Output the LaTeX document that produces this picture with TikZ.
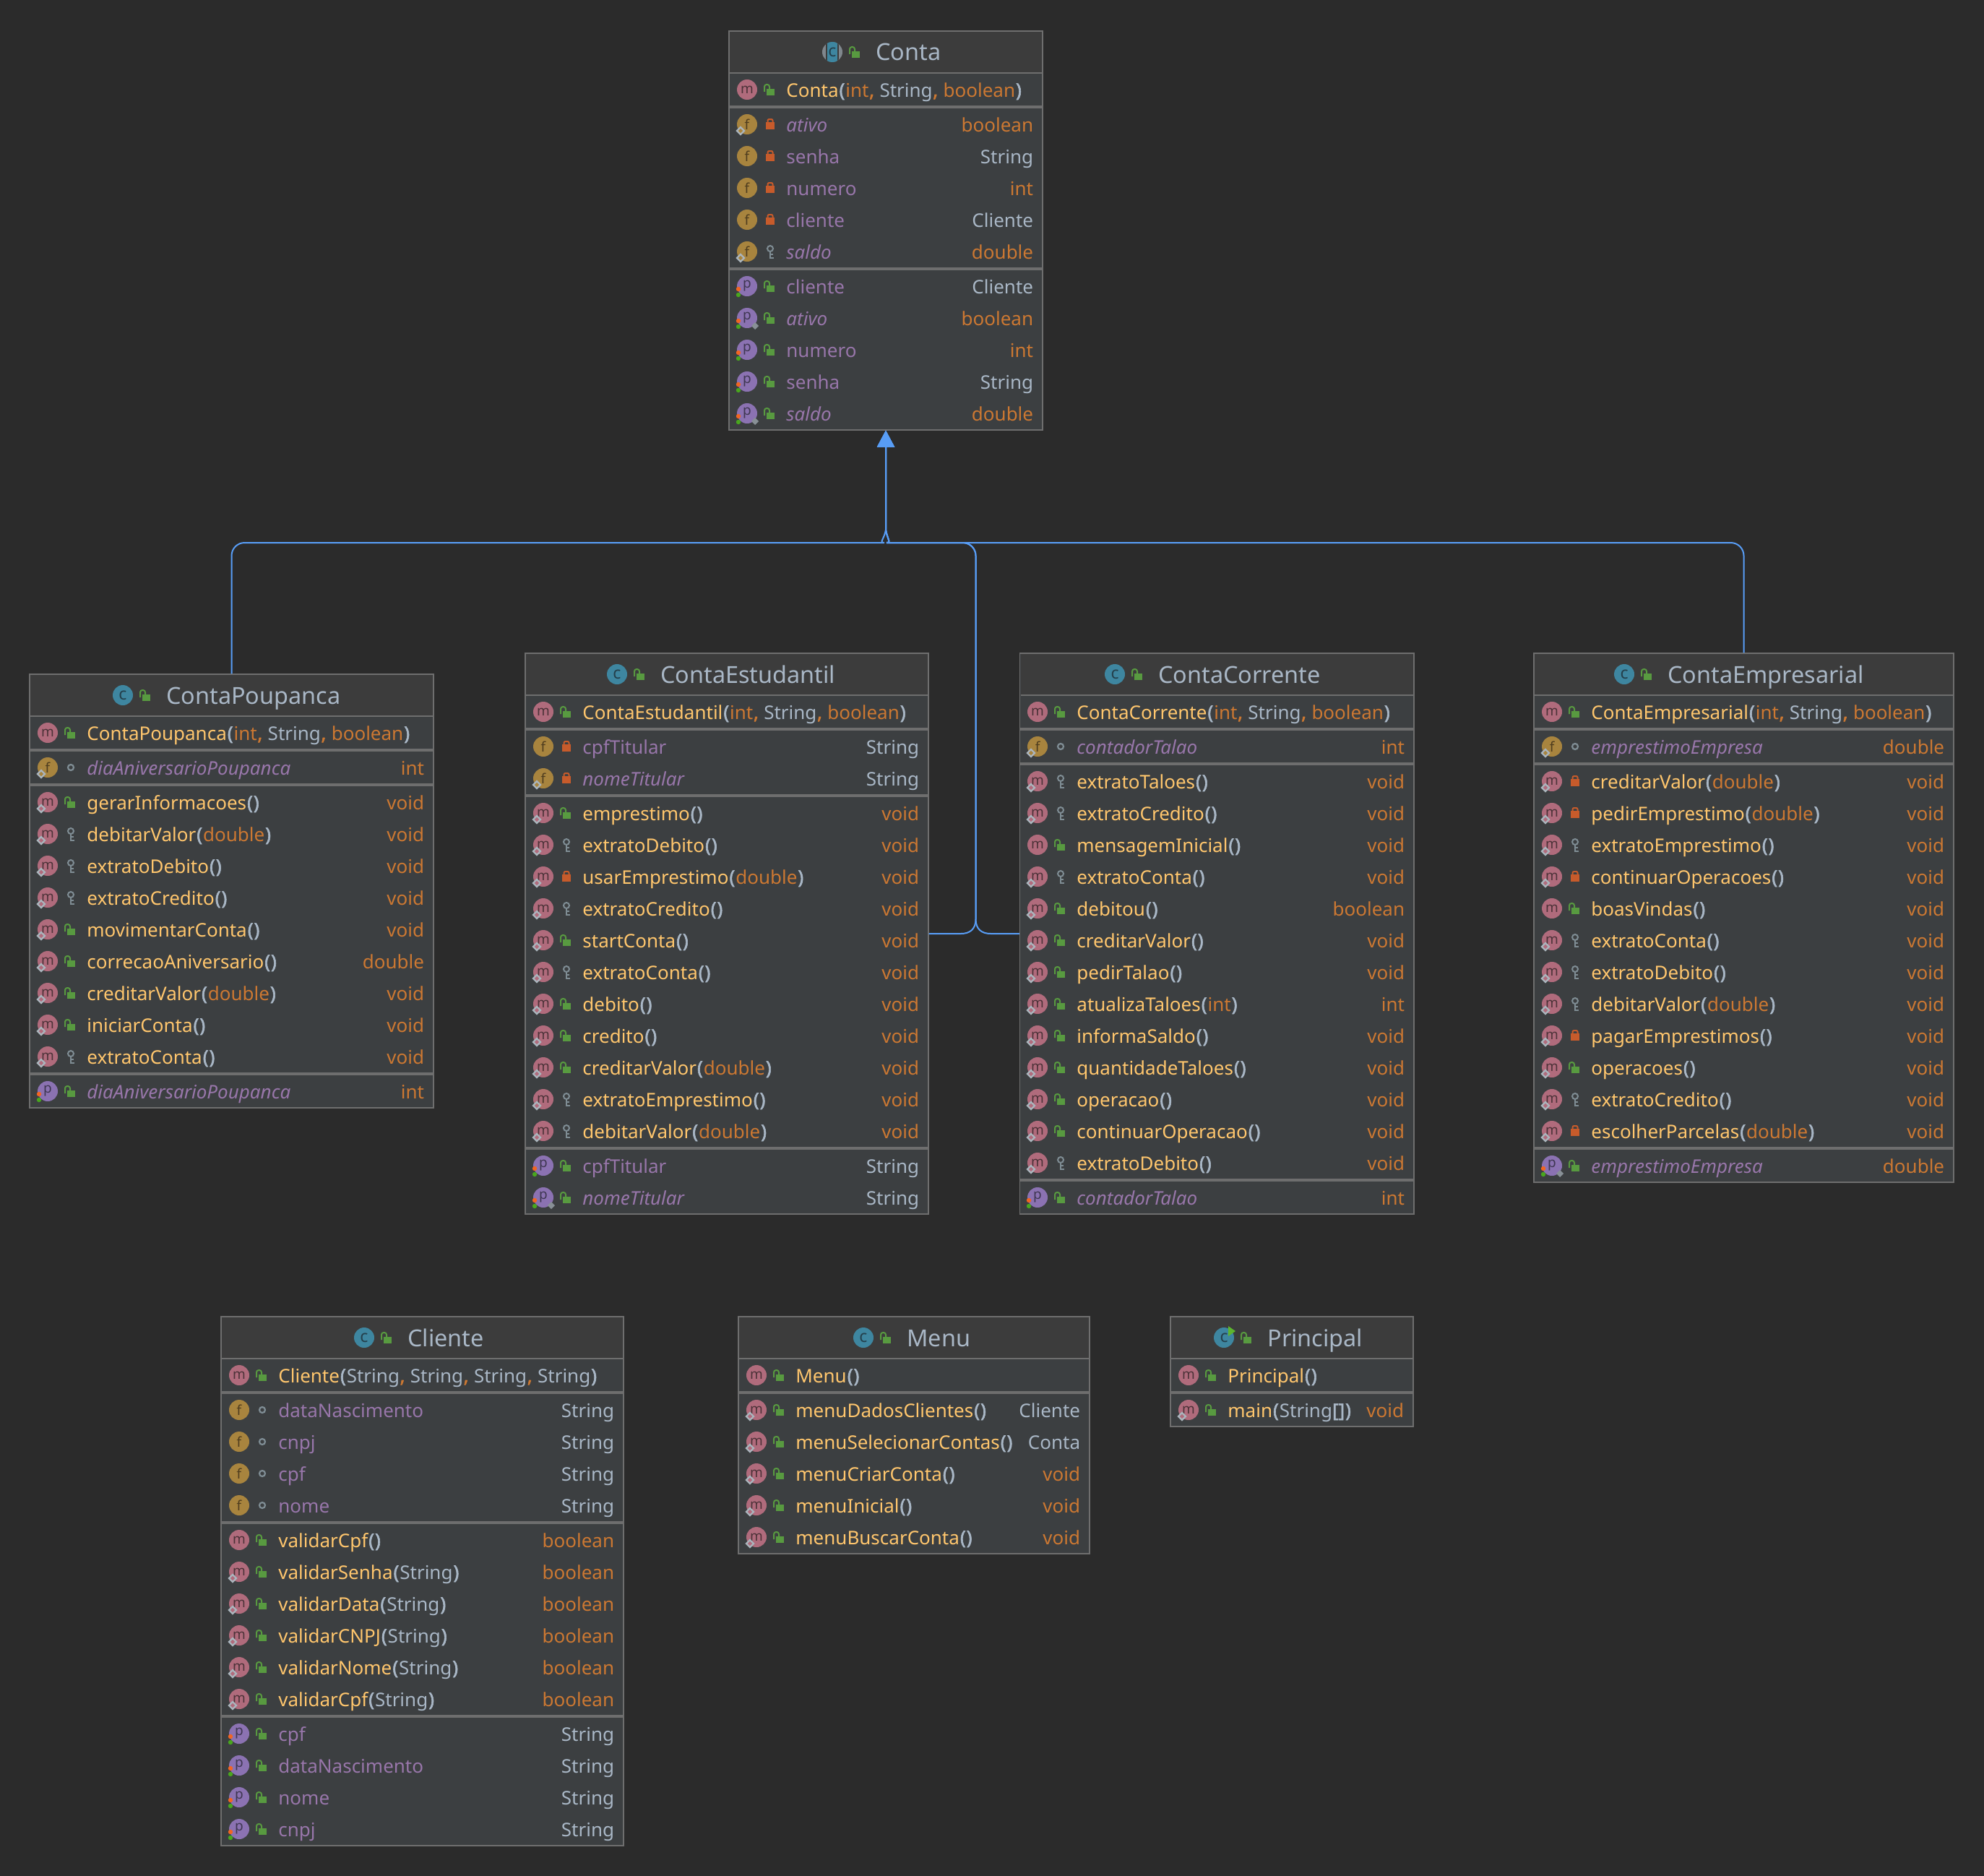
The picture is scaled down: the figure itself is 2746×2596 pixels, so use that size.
\documentclass[tikz,border=0pt]{standalone}
\usepackage{fontspec}
\setmainfont{Noto Sans}
\newfontfamily\parenfont{Noto Sans}[FakeBold=2.2]
\usetikzlibrary{arrows.meta, fit}

\definecolor{bgdark}{HTML}{2B2B2B}
\definecolor{bodyfill}{HTML}{3C3F41}
\definecolor{titlefill}{HTML}{3C3C3C}
\definecolor{rulegray}{HTML}{6E6E6E}
\definecolor{methodtext}{HTML}{FFC66D}
\definecolor{typeorange}{HTML}{CC7832}
\definecolor{textgray}{HTML}{A9B7C6}
\definecolor{fieldpurple}{HTML}{9876AA}
\definecolor{edgeblue}{HTML}{589DF6}
\definecolor{iconc}{HTML}{3E86A0}
\definecolor{iconm}{HTML}{B06B7C}
\definecolor{iconf}{HTML}{A8843E}
\definecolor{iconp}{HTML}{8B72B2}
\definecolor{letterc}{HTML}{24404C}
\definecolor{letterm}{HTML}{4C3238}
\definecolor{letterf}{HTML}{4F3D1F}
\definecolor{letterp}{HTML}{3F3752}
\definecolor{lockgreen}{HTML}{589A40}
\definecolor{lockred}{HTML}{C75B2B}
\definecolor{keygray}{HTML}{7F8D94}
\definecolor{markgray}{HTML}{AAB4BC}
\definecolor{dotorange}{HTML}{F26522}
\definecolor{dotgreen}{HTML}{49A61E}
\definecolor{rungreen}{HTML}{5DB52F}

% pieces of a label
\newcommand{\mname}[1]{\textcolor{methodtext}{#1}}
\newcommand{\fname}[1]{\textcolor{fieldpurple}{#1}}
\newcommand{\iname}[1]{\textcolor{fieldpurple}{\itshape #1}}
\newcommand{\tname}[1]{\textcolor{typeorange}{#1}}
\newcommand{\rname}[1]{\textcolor{textgray}{#1}}
\newcommand{\noargs}{{\parenfont\textcolor{textgray}{\kern.5pt(\kern.5pt)\kern.5pt}}}
\newcommand{\opn}{{\parenfont\textcolor{textgray}{\kern.5pt(\kern.5pt}}}
\newcommand{\cls}{{\parenfont\textcolor{textgray}{\kern.5pt)\kern.5pt}}}
\newcommand{\cma}{{\parenfont\textcolor{typeorange}{\kern.3pt,\kern.3pt}}\space}
\newcommand{\ctorargs}{\opn\tname{int}\cma\rname{String}\cma\tname{boolean}\cls}

% member icons: id, x, y
\newcommand{\overmark}[3]{\draw[overline, fill=#1] (#2-14,#3+9) -- (#2-9,#3+4) -- (#2-4,#3+9) -- (#2-9,#3+14) -- cycle;}
\newcommand{\iconm}[3]{\node[membericon, fill=iconm, text=letterm] (#1) at (#2,#3) {m};}
\newcommand{\iconf}[3]{\node[membericon, fill=iconf, text=letterf] (#1) at (#2,#3) {f};}
\newcommand{\iconp}[3]{\node[membericon, fill=iconp, text=letterp] (#1) at (#2,#3) {p};
  \fill[dotorange] (#2-12,#3+4) circle[radius=1.6pt];
  \fill[dotgreen] (#2-12,#3+12) circle[radius=1.6pt];}
\newcommand{\iconmd}[3]{\iconm{#1}{#2}{#3}\overmark{iconm}{#2}{#3}}
\newcommand{\iconfd}[3]{\iconf{#1}{#2}{#3}\overmark{iconf}{#2}{#3}}
\newcommand{\iconpd}[3]{\iconp{#1}{#2}{#3}
  \fill[markgray!80!black] (#2+6,#3+11) -- (#2+11,#3+6) -- (#2+16,#3+11) -- (#2+11,#3+16) -- cycle;}

% access marks: x, y
\newcommand{\accpub}[2]{\fill[lockgreen] (#1-5,#2-1) rectangle (#1+6,#2+8);
  \draw[lockgreen, line width=1pt, rounded corners=1.5pt] (#1-8,#2+3) -- (#1-8,#2-7) -- (#1-1,#2-7) -- (#1-1,#2);}
\newcommand{\accpri}[2]{\fill[lockred] (#1-6,#2-3) rectangle (#1+6,#2+7);
  \draw[lockred, line width=1pt, rounded corners=1pt] (#1-3.5,#2-3) -- (#1-3.5,#2-7) -- (#1+3.5,#2-7) -- (#1+3.5,#2-3);}
\newcommand{\acckey}[2]{\draw[keygray, line width=1pt] (#1,#2-4) circle[radius=2pt];
  \draw[keygray, line width=1.1pt] (#1,#2) -- (#1,#2+9) -- (#1+5,#2+9) (#1,#2+4) -- (#1+4,#2+4);}
\newcommand{\accpkg}[2]{\draw[keygray, line width=1.1pt] (#1,#2) circle[radius=2pt];}

% class icons: id, x, y
\newcommand{\classiconplain}[3]{\node[classicon, fill=iconc] (#1) at (#2,#3) {c};}
\newcommand{\classiconrun}[3]{\classiconplain{#1}{#2}{#3}
  \fill[rungreen] (#2+6,#3-16) -- (#2+16,#3-9) -- (#2+6,#3-2) -- cycle;}
\newcommand{\classiconabstract}[3]{\begin{scope}
    \clip (#2,#3) circle[radius=7pt];
    \fill[markgray!75!black] (#2-15,#3-15) rectangle (#2+15,#3+15);
    \fill[titlefill] (#2-9,#3-15) rectangle (#2+9,#3+15);
    \fill[iconc] (#2-7,#3-15) rectangle (#2+7,#3+15);
  \end{scope}
  \node[classicon] (#1) at (#2,#3) {c};}

% id, left, top, right, bottom, title x, title, icon kind
\newcommand{\classhead}[8]{\node[classbox, fit={(#2,#3) (#4,#5)}] (#1) {};
  \fill[titlefill] (#2+1,#3+1) rectangle (#4-1,#3+58);
  \draw[titlerule] (#2+1,#3+58) -- (#4-1,#3+58);
  \csname classicon#8\endcsname{#1-icon}{#6-61}{#3+29}
  \accpub{#6-29}{#3+29}
  \node[classtitle] (#1-title) at (#6-1,#3+41) {#7};}

% id, icon, access, left, y, label
\newcommand{\memberrow}[6]{\csname icon#2\endcsname{#1-ic}{#4+25}{#5}
  \csname acc#3\endcsname{#4+57}{#5}
  \node[memberlabel] (#1-label) at (#4+79,#5+10) {#6};}

% id, left, right, first y, rows
\newcommand{\memberrows}[5]{\foreach \ic/\ac/\lab/\ty [count=\rownum] in {#5} {
    \pgfmathsetmacro{\rowy}{#4+44*\rownum-22}
    \memberrow{#1-\rownum}{\ic}{\ac}{#2}{\rowy}{\lab}
    \node[membertype] (#1-\rownum-type) at (#3-12.5,\rowy+10) {\ty};
  }}

\begin{document}
\begin{tikzpicture}[x=0.5pt, y=-0.5pt,
    classbox/.style={draw=rulegray, fill=bodyfill, line width=0.7pt, inner sep=0pt},
    titlerule/.style={draw=rulegray, line width=0.7pt},
    grouprule/.style={draw=rulegray, line width=2pt},
    classtitle/.style={anchor=base west, inner sep=0pt, text=textgray, font=\fontsize{16.2}{18}\selectfont},
    memberlabel/.style={anchor=base west, inner sep=0pt, font=\fontsize{13}{15}\selectfont},
    membertype/.style={anchor=base east, inner sep=0pt, font=\fontsize{13}{15}\selectfont},
    membericon/.style={circle, inner sep=0pt, minimum size=14pt, font=\fontsize{9.5}{10}\selectfont},
    classicon/.style={circle, inner sep=0pt, minimum size=14pt, text=letterc, font=\fontsize{11.5}{12}\selectfont},
    overline/.style={draw=markgray, line width=1.1pt},
    inheritedge/.style={draw=edgeblue, line width=1pt, -{Triangle[length=11.5pt, width=12pt, fill=edgeblue]}}
  ]
  \fill[bgdark] (0,0) rectangle (2746,2596);

  % Conta
  \classhead{conta}{1009}{43}{1443}{595}{1213}{Conta}{abstract}
  \memberrow{contaCtor}{m}{pub}{1009}{124}{\mname{Conta}\ctorargs}
  \draw[grouprule] (1010,148) -- (1442,148);
  \memberrows{contaF}{1009}{1443}{150}{
    fd/pri/\iname{ativo}/\tname{boolean},
    f/pri/\fname{senha}/\rname{String},
    f/pri/\fname{numero}/\tname{int},
    f/pri/\fname{cliente}/\rname{Cliente},
    fd/key/\iname{saldo}/\tname{double}}
  \draw[grouprule] (1010,372) -- (1442,372);
  \memberrows{contaP}{1009}{1443}{374}{
    p/pub/\fname{cliente}/\rname{Cliente},
    pd/pub/\iname{ativo}/\tname{boolean},
    p/pub/\fname{numero}/\tname{int},
    p/pub/\fname{senha}/\rname{String},
    pd/pub/\iname{saldo}/\tname{double}}

  % ContaPoupanca
  \classhead{contaPoupanca}{41}{933}{600}{1533}{231}{ContaPoupanca}{plain}
  \memberrow{poupancaCtor}{m}{pub}{41}{1014}{\mname{ContaPoupanca}\ctorargs}
  \draw[grouprule] (42,1038) -- (599,1038);
  \memberrows{poupancaF}{41}{600}{1040}{
    fd/pkg/\iname{diaAniversarioPoupanca}/\tname{int}}
  \draw[grouprule] (42,1086) -- (599,1086);
  \memberrows{poupancaM}{41}{600}{1088}{
    md/pub/\mname{gerarInformacoes}\noargs/\tname{void},
    md/key/\mname{debitarValor}\opn\tname{double}\cls/\tname{void},
    md/key/\mname{extratoDebito}\noargs/\tname{void},
    md/key/\mname{extratoCredito}\noargs/\tname{void},
    md/pub/\mname{movimentarConta}\noargs/\tname{void},
    md/pub/\mname{correcaoAniversario}\noargs/\tname{double},
    md/pub/\mname{creditarValor}\opn\tname{double}\cls/\tname{void},
    md/pub/\mname{iniciarConta}\noargs/\tname{void},
    md/key/\mname{extratoConta}\noargs/\tname{void}}
  \draw[grouprule] (42,1486) -- (599,1486);
  \memberrows{poupancaP}{41}{600}{1488}{
    p/pub/\iname{diaAniversarioPoupanca}/\tname{int}}

  % ContaEstudantil
  \classhead{contaEstudantil}{727}{904}{1285}{1680}{915}{ContaEstudantil}{plain}
  \memberrow{estudantilCtor}{m}{pub}{727}{985}{\mname{ContaEstudantil}\ctorargs}
  \draw[grouprule] (728,1009) -- (1284,1009);
  \memberrows{estudantilF}{727}{1285}{1011}{
    f/pri/\fname{cpfTitular}/\rname{String},
    fd/pri/\iname{nomeTitular}/\rname{String}}
  \draw[grouprule] (728,1101) -- (1284,1101);
  \memberrows{estudantilM}{727}{1285}{1103}{
    md/pub/\mname{emprestimo}\noargs/\tname{void},
    md/key/\mname{extratoDebito}\noargs/\tname{void},
    md/pri/\mname{usarEmprestimo}\opn\tname{double}\cls/\tname{void},
    md/key/\mname{extratoCredito}\noargs/\tname{void},
    md/pub/\mname{startConta}\noargs/\tname{void},
    md/key/\mname{extratoConta}\noargs/\tname{void},
    md/pub/\mname{debito}\noargs/\tname{void},
    md/pub/\mname{credito}\noargs/\tname{void},
    md/pub/\mname{creditarValor}\opn\tname{double}\cls/\tname{void},
    md/key/\mname{extratoEmprestimo}\noargs/\tname{void},
    md/key/\mname{debitarValor}\opn\tname{double}\cls/\tname{void}}
  \draw[grouprule] (728,1589) -- (1284,1589);
  \memberrows{estudantilP}{727}{1285}{1591}{
    p/pub/\fname{cpfTitular}/\rname{String},
    pd/pub/\iname{nomeTitular}/\rname{String}}

  % ContaCorrente
  \classhead{contaCorrente}{1411.5}{904}{1957}{1680}{1604}{ContaCorrente}{plain}
  \memberrow{correnteCtor}{m}{pub}{1411}{985}{\mname{ContaCorrente}\ctorargs}
  \draw[grouprule] (1412,1009) -- (1956,1009);
  \memberrows{correnteF}{1411}{1957}{1011}{
    fd/pkg/\iname{contadorTalao}/\tname{int}}
  \draw[grouprule] (1412,1057) -- (1956,1057);
  \memberrows{correnteM}{1411}{1957}{1059}{
    md/key/\mname{extratoTaloes}\noargs/\tname{void},
    md/key/\mname{extratoCredito}\noargs/\tname{void},
    m/pub/\mname{mensagemInicial}\noargs/\tname{void},
    md/key/\mname{extratoConta}\noargs/\tname{void},
    md/pub/\mname{debitou}\noargs/\tname{boolean},
    md/pub/\mname{creditarValor}\noargs/\tname{void},
    md/pub/\mname{pedirTalao}\noargs/\tname{void},
    md/pub/\mname{atualizaTaloes}\opn\tname{int}\cls/\tname{int},
    md/pub/\mname{informaSaldo}\noargs/\tname{void},
    md/pub/\mname{quantidadeTaloes}\noargs/\tname{void},
    md/pub/\mname{operacao}\noargs/\tname{void},
    md/pub/\mname{continuarOperacao}\noargs/\tname{void},
    md/key/\mname{extratoDebito}\noargs/\tname{void}}
  \draw[grouprule] (1412,1633) -- (1956,1633);
  \memberrows{correnteP}{1411}{1957}{1635}{
    p/pub/\iname{contadorTalao}/\tname{int}}

  % ContaEmpresarial
  \classhead{contaEmpresarial}{2123}{904}{2704}{1636}{2309}{ContaEmpresarial}{plain}
  \memberrow{empresarialCtor}{m}{pub}{2123}{985}{\mname{ContaEmpresarial}\ctorargs}
  \draw[grouprule] (2124,1009) -- (2703,1009);
  \memberrows{empresarialF}{2123}{2704}{1011}{
    fd/pkg/\iname{emprestimoEmpresa}/\tname{double}}
  \draw[grouprule] (2124,1057) -- (2703,1057);
  \memberrows{empresarialM}{2123}{2704}{1059}{
    md/pri/\mname{creditarValor}\opn\tname{double}\cls/\tname{void},
    md/pri/\mname{pedirEmprestimo}\opn\tname{double}\cls/\tname{void},
    md/key/\mname{extratoEmprestimo}\noargs/\tname{void},
    md/pri/\mname{continuarOperacoes}\noargs/\tname{void},
    m/pub/\mname{boasVindas}\noargs/\tname{void},
    md/key/\mname{extratoConta}\noargs/\tname{void},
    md/key/\mname{extratoDebito}\noargs/\tname{void},
    md/key/\mname{debitarValor}\opn\tname{double}\cls/\tname{void},
    md/pri/\mname{pagarEmprestimos}\noargs/\tname{void},
    md/pub/\mname{operacoes}\noargs/\tname{void},
    md/key/\mname{extratoCredito}\noargs/\tname{void},
    md/pri/\mname{escolherParcelas}\opn\tname{double}\cls/\tname{void}}
  \draw[grouprule] (2124,1589) -- (2703,1589);
  \memberrows{empresarialP}{2123}{2704}{1591}{
    pd/pub/\iname{emprestimoEmpresa}/\tname{double}}

  % Cliente
  \classhead{cliente}{306}{1822}{863}{2554}{565}{Cliente}{plain}
  \memberrow{clienteCtor}{m}{pub}{306}{1903}{\mname{Cliente}\opn\rname{String}\cma\rname{String}\cma\rname{String}\cma\rname{String}\cls}
  \draw[grouprule] (307,1927) -- (862,1927);
  \memberrows{clienteF}{306}{863}{1929}{
    f/pkg/\fname{dataNascimento}/\rname{String},
    f/pkg/\fname{cnpj}/\rname{String},
    f/pkg/\fname{cpf}/\rname{String},
    f/pkg/\fname{nome}/\rname{String}}
  \draw[grouprule] (307,2107) -- (862,2107);
  \memberrows{clienteM}{306}{863}{2109}{
    m/pub/\mname{validarCpf}\noargs/\tname{boolean},
    md/pub/\mname{validarSenha}\opn\rname{String}\cls/\tname{boolean},
    md/pub/\mname{validarData}\opn\rname{String}\cls/\tname{boolean},
    md/pub/\mname{validarCNPJ}\opn\rname{String}\cls/\tname{boolean},
    md/pub/\mname{validarNome}\opn\rname{String}\cls/\tname{boolean},
    md/pub/\mname{validarCpf}\opn\rname{String}\cls/\tname{boolean}}
  \draw[grouprule] (307,2375) -- (862,2375);
  \memberrows{clienteP}{306}{863}{2377}{
    p/pub/\fname{cpf}/\rname{String},
    p/pub/\fname{dataNascimento}/\rname{String},
    p/pub/\fname{nome}/\rname{String},
    p/pub/\fname{cnpj}/\rname{String}}

  % Menu
  \classhead{menu}{1022}{1822}{1508}{2150}{1256}{Menu}{plain}
  \memberrow{menuCtor}{m}{pub}{1022}{1903}{\mname{Menu}\noargs}
  \draw[grouprule] (1023,1927) -- (1507,1927);
  \memberrows{menuM}{1022}{1508}{1929}{
    md/pub/\mname{menuDadosClientes}\noargs/\rname{Cliente},
    md/pub/\mname{menuSelecionarContas}\noargs/\rname{Conta},
    md/pub/\mname{menuCriarConta}\noargs/\tname{void},
    md/pub/\mname{menuInicial}\noargs/\tname{void},
    md/pub/\mname{menuBuscarConta}\noargs/\tname{void}}

  % Principal
  \classhead{principal}{1620}{1822}{1956}{1974}{1755}{Principal}{run}
  \memberrow{principalCtor}{m}{pub}{1620}{1903}{\mname{Principal}\noargs}
  \draw[grouprule] (1621,1927) -- (1955,1927);
  \memberrows{principalM}{1620}{1956}{1929}{
    md/pub/\mname{main}\opn\rname{String}{\parenfont\textcolor{textgray}{[]}}\cls/\tname{void}}

  % inheritance edges
  \coordinate (split) at (conta.south |- 0,733);
  \coordinate (busleft) at (1206,751);
  \coordinate (busright) at (1245,751);
  \coordinate (stemlow) at (1350.5,1272);
  \coordinate (stemleft) at (1330,1292);
  \coordinate (stemright) at (1371,1292);
  \draw[inheritedge] [rounded corners=9pt] (contaPoupanca.north) |- (busleft) [sharp corners] .. controls (1216,751) and (1224,746) .. (split) -- (conta.south);
  \draw[inheritedge] [rounded corners=9pt] (contaEmpresarial.north) |- (busright) [sharp corners] .. controls (1234,751) and (1228,746) .. (split) -- (conta.south);
  \draw[inheritedge] (contaEstudantil.east) -- (stemleft) .. controls (1342,1292) and (1350.5,1286) .. (stemlow) [rounded corners=9pt] |- (busright) [sharp corners] .. controls (1234,751) and (1228,746) .. (split) -- (conta.south);
  \draw[inheritedge] (contaCorrente.west) -- (stemright) .. controls (1359,1292) and (1350.5,1286) .. (stemlow) [rounded corners=9pt] |- (busright) [sharp corners] .. controls (1234,751) and (1228,746) .. (split) -- (conta.south);
\end{tikzpicture}
\end{document}
